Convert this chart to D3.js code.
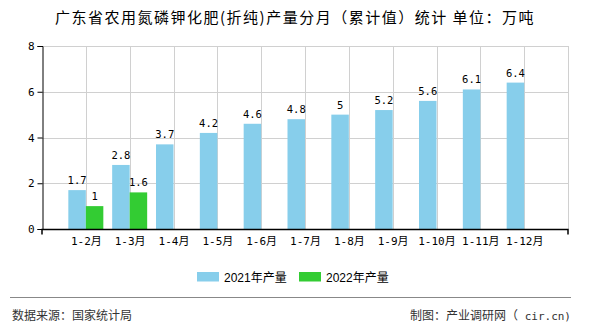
<!DOCTYPE html>
<html>
<head>
<meta charset="utf-8">
<script src="https://cdn.jsdelivr.net/npm/d3@7/dist/d3.min.js"></script>
<style>
  html, body { margin: 0; padding: 0; background: #fff; }
  svg { display: block; }
</style>
</head>
<body>
<svg id="chart" width="590" height="330"></svg>
<script>
// Monthly cumulative output, 10k tonnes
const categories = ["1-2月", "1-3月", "1-4月", "1-5月", "1-6月", "1-7月", "1-8月", "1-9月", "1-10月", "1-11月", "1-12月"];
const values2021 = [1.7, 2.8, 3.7, 4.2, 4.6, 4.8, 5, 5.2, 5.6, 6.1, 6.4];
const values2022 = [1, 1.6, null, null, null, null, null, null, null, null, null];
const seriesNames = ["2021年产量", "2022年产量"];
const seriesColors = ["#87CEEB", "#33CC33"];
const yTicks = [0, 2, 4, 6, 8];

const title = "广东省农用氮磷钾化肥(折纯)产量分月（累计值）统计 单位：万吨";
const sourceText = "数据来源：国家统计局";
const creditText = "制图：产业调研网（";
const creditTail = " cir.cn)";

const svg = d3.select("#chart");
const monoFont = "'DejaVu Sans Mono', 'Liberation Mono', 'Noto Sans CJK SC', monospace";
const sansFont = "'Liberation Sans', Arial, 'Noto Sans CJK SC', sans-serif";
const cjkFont = "'Noto Sans CJK SC', sans-serif";

const plot = { left: 42, right: 568, top: 46, bottom: 229 };
const barW = 17.5;

const x = d3.scalePoint().domain(categories).range([plot.left, plot.right]).padding(1);
const y = d3.scaleLinear().domain([0, 8]).range([plot.bottom, plot.top]);

// Title
svg.append("text")
  .attr("x", 295).attr("y", 23)
  .attr("text-anchor", "middle")
  .attr("font-family", cjkFont)
  .attr("font-size", 15)
  .attr("letter-spacing", 1.5)
  .attr("fill", "#000")
  .text(title);

// Grid: horizontal lines at y ticks, vertical lines at category centers, right border
const grid = svg.append("g").attr("stroke", "#d0d0d0").attr("stroke-width", 1).attr("shape-rendering", "crispEdges");
grid.selectAll(".h").data(yTicks.filter(d => d > 0)).join("line")
  .attr("x1", plot.left).attr("x2", plot.right)
  .attr("y1", d => Math.round(y(d)) + 0.5).attr("y2", d => Math.round(y(d)) + 0.5);
grid.selectAll(".v").data(categories).join("line")
  .attr("x1", d => Math.round(x(d)) + 0.5).attr("x2", d => Math.round(x(d)) + 0.5)
  .attr("y1", plot.top).attr("y2", plot.bottom);
grid.append("line")
  .attr("x1", plot.right + 0.5).attr("x2", plot.right + 0.5)
  .attr("y1", plot.top).attr("y2", plot.bottom);

// Bars
const seriesData = [values2021, values2022];
seriesData.forEach((vals, si) => {
  const g = svg.append("g");
  const pts = categories.map((c, i) => ({ c, v: vals[i] })).filter(d => d.v != null);
  const offset = si === 0 ? -barW : 0;
  g.selectAll("rect").data(pts).join("rect")
    .attr("x", d => x(d.c) + offset)
    .attr("y", d => y(d.v))
    .attr("width", barW)
    .attr("height", d => y(0) - y(d.v))
    .attr("fill", seriesColors[si]);
  g.selectAll("text").data(pts).join("text")
    .attr("x", d => x(d.c) + offset + barW / 2)
    .attr("y", d => y(d.v) - 6)
    .attr("text-anchor", "middle")
    .attr("font-family", monoFont)
    .attr("font-size", 10.5)
    .attr("fill", "#000")
    .text(d => d.v);
});

// Y axis
const yAxis = svg.append("g")
  .attr("transform", `translate(${plot.left + 0.5},0)`)
  .call(d3.axisLeft(y).tickValues(yTicks).tickSize(5).tickPadding(3).tickFormat(d3.format("d")));
yAxis.select(".domain").attr("stroke", "#000");
yAxis.selectAll(".tick line").attr("stroke", "#000");
yAxis.selectAll("text").attr("font-family", monoFont).attr("font-size", 11).attr("fill", "#000");

// X axis
const xAxis = svg.append("g")
  .attr("transform", `translate(0,${plot.bottom + 0.5})`)
  .call(d3.axisBottom(x).tickSize(0).tickPadding(8));
xAxis.select(".domain").attr("stroke", "#000").attr("stroke-width", 1.5)
  .attr("d", `M${plot.left},5V0H${plot.right}V5`);
xAxis.selectAll("text").attr("font-family", monoFont).attr("font-size", 11).attr("fill", "#000");

// Legend
const legend = svg.append("g").attr("transform", "translate(197,272)");
const legendX = [0, 102];
seriesNames.forEach((name, i) => {
  const item = legend.append("g").attr("transform", `translate(${legendX[i]},0)`);
  item.append("rect").attr("width", 22).attr("height", 9.5).attr("fill", seriesColors[i]);
  item.append("text")
    .attr("x", 27).attr("y", 9.5)
    .attr("font-family", sansFont)
    .attr("font-size", 12)
    .attr("fill", "#000")
    .text(name);
});

// Footer
svg.append("line")
  .attr("x1", 10).attr("x2", 571)
  .attr("y1", 297.5).attr("y2", 297.5)
  .attr("stroke", "#888").attr("stroke-width", 1);
svg.append("text")
  .attr("x", 12).attr("y", 320)
  .attr("font-family", cjkFont)
  .attr("font-size", 12)
  .attr("fill", "#333")
  .text(sourceText);
const credit = svg.append("text")
  .attr("x", 571).attr("y", 320)
  .attr("text-anchor", "end")
  .attr("font-size", 12)
  .attr("fill", "#333");
credit.append("tspan").attr("font-family", cjkFont).text(creditText);
credit.append("tspan").attr("font-family", monoFont).attr("font-size", 11).text(creditTail);
</script>
</body>
</html>
